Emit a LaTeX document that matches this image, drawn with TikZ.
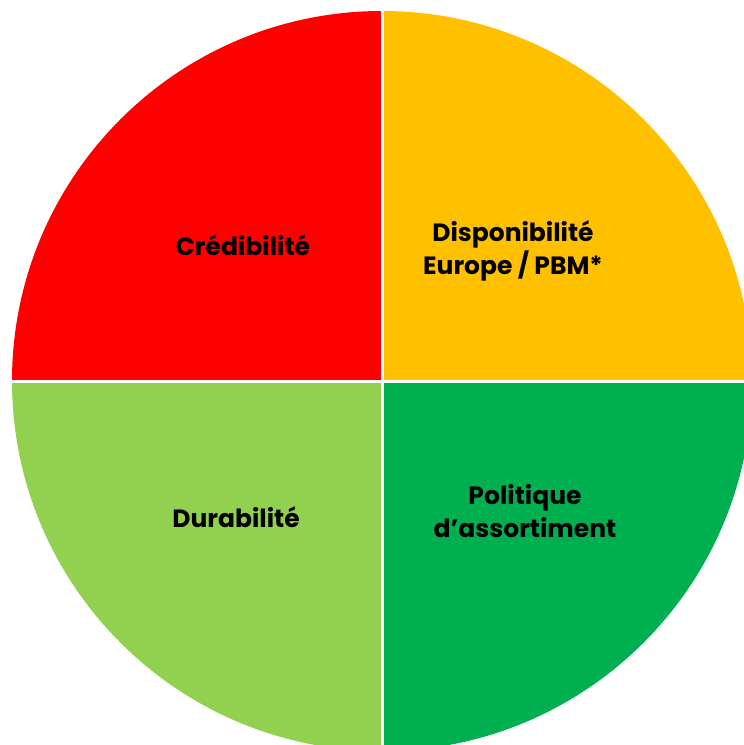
\documentclass[tikz,border=0pt]{standalone}
\usepackage{fontspec}
\setmainfont{Poppins}[BoldFont={* Bold}]
\definecolor{qred}{HTML}{FF0000}
\definecolor{qorange}{HTML}{FFC000}
\definecolor{qlgreen}{HTML}{92D050}
\definecolor{qgreen}{HTML}{00B050}
\tikzset{
  lbl/.style={align=center, font=\fontsize{25}{33}\selectfont\bfseries, text=black, inner sep=0pt},
  sep/.style={draw=white, line width=3pt}
}
\begin{document}
\begin{tikzpicture}[x=1pt,y=-1pt]
\useasboundingbox (0,0) rectangle (744,745);
\fill[white] (0,0) rectangle (744,745);
\clip (0,0) rectangle (744,745);
\coordinate (c) at (382,381);
\begin{scope}
\clip (c) rectangle (0,0);
\fill[qred] (c) circle[radius=370];
\end{scope}
\begin{scope}
\clip (c) rectangle (800,0);
\fill[qorange] (c) circle[radius=370];
\end{scope}
\begin{scope}
\clip (c) rectangle (800,800);
\fill[qgreen] (c) circle[radius=370];
\end{scope}
\begin{scope}
\clip (c) rectangle (0,800);
\fill[qlgreen] (c) circle[radius=370];
\end{scope}
\coordinate (t) at (382,0);
\coordinate (b) at (382,745);
\coordinate (l) at (0,381);
\coordinate (r) at (744,381);
\draw[sep] (t) -- (b);
\draw[sep] (l) -- (r);
\node[lbl] (cred) at (243,245) {Crédibilité};
\node[lbl] (disp) at (513,251) {Disponibilité\\Europe~/~PBM*};
\node[lbl] (dura) at (236,517) {Durabilité};
\node[lbl] (poli) at (525,511) {Politique\\d’assortiment};
\end{tikzpicture}
\end{document}
